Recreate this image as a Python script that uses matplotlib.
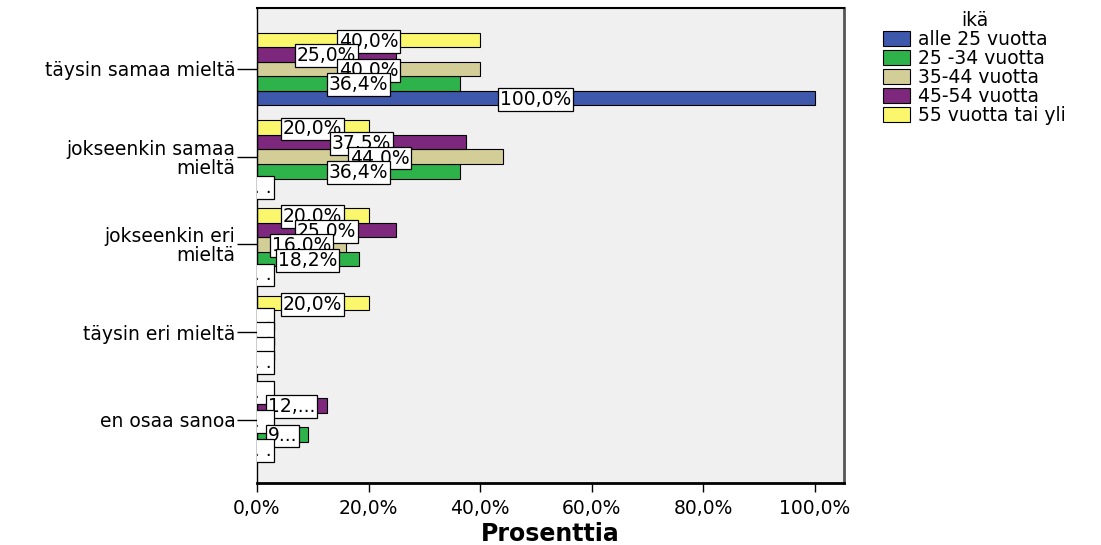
import matplotlib.pyplot as plt
import numpy as np

plt.rcParams['font.family'] = ['DejaVu Sans']

categories = ['täysin samaa mieltä', 'jokseenkin samaa\nmieltä',
              'jokseenkin eri\nmieltä', 'täysin eri mieltä', 'en osaa sanoa']
age_groups = ['alle 25 vuotta', '25 -34 vuotta', '35-44 vuotta',
              '45-54 vuotta', '55 vuotta tai yli']

# percent of each age group per answer
alle_25 = [100.0, 0.0, 0.0, 0.0, 0.0]
ika_25_34 = [36.4, 36.4, 18.2, 0.0, 9.1]
ika_35_44 = [40.0, 44.0, 16.0, 0.0, 0.0]
ika_45_54 = [25.0, 37.5, 25.0, 0.0, 12.5]
ika_55_yli = [40.0, 20.0, 20.0, 20.0, 0.0]

x_ticks = [0, 20, 40, 60, 80, 100]

colors = ['#3E58AC', '#2EB34A', '#D3CE97', '#7D277D', '#FBF76D']
series = [alle_25, ika_25_34, ika_35_44, ika_45_54, ika_55_yli]
FS = 13.5


def pct(v):
    return f'{v:.1f}%'.replace('.', ',')


def bar_text(v):
    # labels that don't fit inside the bar get cut short
    s = pct(v)
    if v == 0:
        return '. . .'
    if v < 15:
        return s[:3 if v >= 10 else 1] + '...'
    return s


fig = plt.figure(figsize=(11.01, 5.45), dpi=100)
ax = fig.add_axes([257 / 1101, 1 - 483 / 545, 587 / 1101, 475 / 545])
ax.set_facecolor('#F0F0F0')

h = 0.166
y = np.arange(len(categories))
for k, vals in enumerate(series):
    ax.barh(y + (2 - k) * h, vals, height=h, color=colors[k],
            edgecolor='black', linewidth=0.8, label=age_groups[k], zorder=2)

# value boxes, top bar of each group first so lower ones sit on top
for i in range(len(categories)):
    for k in range(len(series) - 1, -1, -1):
        v = series[k][i]
        ax.text(v / 2, y[i] + (2 - k) * h + 0.015, bar_text(v),
                ha='center', va='center', fontsize=FS, zorder=3 + (4 - k),
                clip_on=True,
                bbox=dict(boxstyle='square,pad=0.1', fc='white',
                          ec='black', lw=0.9))

ax.set_xlim(0, 105.2)
ax.set_ylim(4.718, -0.695)
ax.set_xticks(x_ticks)
ax.set_xticklabels([pct(t) for t in x_ticks], fontsize=FS)
ax.set_yticks(y)
ax.set_yticklabels(categories, fontsize=FS, multialignment='right',
                   linespacing=1.0)
ax.tick_params(axis='y', length=14.4, width=1, pad=1)
ax.tick_params(axis='x', length=6.5, width=1, pad=5)
ax.set_xlabel('Prosenttia', fontsize=17, fontweight='bold', labelpad=3)

ax.spines['top'].set_linewidth(1.5)
ax.spines['right'].set_color('#555555')
ax.spines['right'].set_linewidth(2)
ax.spines['bottom'].set_linewidth(2)
ax.spines['left'].set_linewidth(1)

fig.legend(loc='upper left', bbox_to_anchor=(872 / 1101, 1.0),
           title='ikä', title_fontsize=FS, fontsize=FS, frameon=False,
           handlelength=1.45, handleheight=0.85, handletextpad=0.4,
           labelspacing=0.0, borderpad=0.1)

fig.savefig('out.png', dpi=100)
